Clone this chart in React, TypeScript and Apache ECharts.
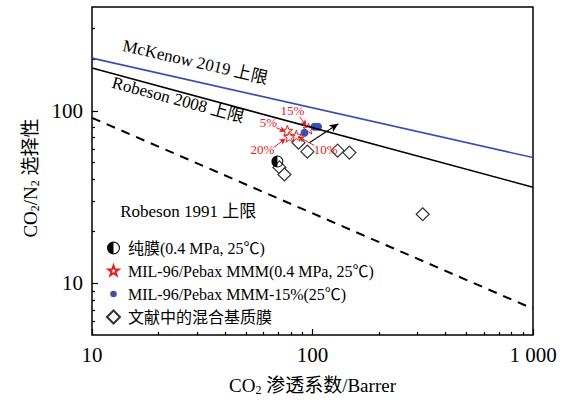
import React, { useEffect, useRef } from 'react';
import * as echarts from 'echarts';

const SERIF = '"Liberation Serif", "Times New Roman", "Noto Sans CJK SC", serif';

// Upper bound lines (x = CO2 permeability, Barrer)
const boundX = [10, 1000];
const mckenow2019 = [202, 53.5];
const robeson2008 = [177, 36];
const robeson1991 = [91, 7.1];

// Data points [permeability, selectivity]
const pureMembrane = [[69.3, 50.7]];
const mmmX = [76.9, 84.5, 95.9, 78.5];
const mmmY = [76.6, 71.7, 78.7, 70.7];
const mmm15 = [[92, 74.6], [102, 80.8], [106, 80.8]];
const literature = [[86.4, 65.3], [94.8, 57.9], [130, 58.7], [147, 57.2], [70.8, 46.9], [74.6, 42.7], [316, 25.1]];

// Percentage annotations: label position, arrow start, arrow end
const pctNames = ['15%', '5%', '20%', '10%'];
const pctLabelPos = [[81.1, 100], [63.1, 85.2], [59.3, 59.5], [114.6, 59.5]];
const pctArrowFrom = [[87.3, 92.3], [68.5, 79.8], [66.5, 61.1], [102, 62.8]];
const pctArrowTo = [[93.9, 81.9], [75.4, 75.7], [75.4, 68.9], [86.3, 70.8]];
const trendArrow = [[96.8, 65.3], [131, 84.1]];

// Bound line labels
const boundNames = ['McKenow 2019 上限', 'Robeson 2008 上限', 'Robeson 1991 上限'];
const boundLabelPos = [[29.4, 192], [24.6, 115.8], [27.3, 26.1]];
const boundLabelRot = [-13, -15, 0];

// Ticks
const xMajor = [10, 100, 1000];
const xMinor = [20, 30, 40, 50, 60, 70, 80, 90, 200, 300, 400, 500, 600, 700, 800, 900];
const yMajor = [10, 100];
const yMinor = [6, 7, 8, 9, 20, 30, 40, 50, 60, 70, 80, 90, 200, 300];

const legendNames = ['纯膜(0.4 MPa, 25℃)', 'MIL-96/Pebax MMM(0.4 MPa, 25℃)', 'MIL-96/Pebax MMM-15%(25℃)', '文献中的混合基质膜'];

const STAR = 'path://M0,-10 L2.35,-3.24 L9.51,-3.09 L3.8,1.24 L5.88,8.09 L0,4 L-5.88,8.09 L-3.8,1.24 L-9.51,-3.09 L-2.35,-3.24 Z';
const HALF = 'path://M0,-10 A10,10 0 0,0 0,10 Z M0,-10 A10,10 0 0,1 0,10 L0,8.4 A8.4,8.4 0 0,0 0,-8.4 Z';
const SMALLDOT = 'path://M-10,-10 M10,10 M-5,0 A5,5 0 1,0 5,0 A5,5 0 1,0 -5,0 Z';
const SMALLSTAR = 'path://M-12,-12 M12,12 M0,-10 L2.35,-3.24 L9.51,-3.09 L3.8,1.24 L5.88,8.09 L0,4 L-5.88,8.09 L-3.8,1.24 L-9.51,-3.09 L-2.35,-3.24 Z';

const RED = '#e8201c';
const BLUE = '#3a50b0';

export default function App() {
  const ref = useRef<HTMLDivElement>(null);
  useEffect(() => {
    if (!ref.current) return;
    const chart = echarts.init(ref.current, null, { renderer: 'svg' });
    const tickStyle = { color: '#000', width: 1.2 };
    const xFmt = (v: number) => {
      const r = Math.round(v);
      if (r === 1000) return '1 000';
      return xMajor.includes(r) ? String(r) : '';
    };
    const yFmt = (v: number) => {
      const r = Math.round(v);
      return yMajor.includes(r) ? String(r) : '';
    };
    const subRich = { sub: { fontSize: 12, fontFamily: SERIF, color: '#000', padding: [9, 0, 0, 0] } };
    const option: any = {
      animation: false,
      backgroundColor: '#fff',
      grid: { left: 92, right: 36, top: 7, bottom: 69, show: true, borderColor: '#000', borderWidth: 1.5 },
      legend: {
        orient: 'vertical', left: 106, top: 240, padding: 0, itemGap: 7, itemWidth: 13, itemHeight: 13,
        selectedMode: false,
        textStyle: { fontFamily: SERIF, fontSize: 16, color: '#000', padding: [0, 0, 0, 3] },
        data: [
          { name: legendNames[0] },
          { name: legendNames[1], icon: SMALLSTAR },
          { name: legendNames[2], icon: SMALLDOT },
          { name: legendNames[3] },
        ],
      },
      xAxis: [
        {
          type: 'log', logBase: 10, min: 10, max: 1000, position: 'bottom',
          axisLine: { show: false }, splitLine: { show: false },
          axisTick: { show: true, inside: true, length: 6, customValues: xMajor, lineStyle: tickStyle },
          axisLabel: { customValues: xMajor, formatter: xFmt, fontSize: 21, color: '#000', fontFamily: SERIF, margin: 9 },
          name: 'CO{sub|2} 渗透系数/Barrer', nameLocation: 'middle', nameGap: 40,
          nameTextStyle: { fontFamily: SERIF, fontSize: 19, color: '#000', rich: subRich },
        },
        {
          type: 'log', logBase: 10, min: 10, max: 1000, position: 'bottom',
          axisLine: { show: false }, splitLine: { show: false },
          axisTick: { show: true, inside: true, length: 3, customValues: xMinor, lineStyle: tickStyle },
          axisLabel: { show: false },
        },
      ],
      yAxis: [
        {
          type: 'log', logBase: 10, min: 5, max: 400, position: 'left',
          axisLine: { show: false }, splitLine: { show: false },
          axisTick: { show: true, inside: true, length: 6, customValues: yMajor, lineStyle: tickStyle },
          axisLabel: { customValues: yMajor, formatter: yFmt, fontSize: 21, color: '#000', fontFamily: SERIF, margin: 9 },
          name: 'CO{sub|2}/N{sub|2} 选择性', nameLocation: 'middle', nameGap: 48,
          nameTextStyle: { fontFamily: SERIF, fontSize: 19, color: '#000', rich: subRich, padding: [0, 14, 0, 0] },
        },
        {
          type: 'log', logBase: 10, min: 5, max: 400, position: 'left',
          axisLine: { show: false }, splitLine: { show: false },
          axisTick: { show: true, inside: true, length: 3, customValues: yMinor, lineStyle: tickStyle },
          axisLabel: { show: false },
        },
      ],
      series: [
        {
          type: 'line', name: 'McKenow 2019', silent: true, symbol: 'none',
          data: boundX.map((x, i) => [x, mckenow2019[i]]),
          lineStyle: { color: BLUE, width: 1.6 },
        },
        {
          type: 'line', name: 'Robeson 2008', silent: true, symbol: 'none',
          data: boundX.map((x, i) => [x, robeson2008[i]]),
          lineStyle: { color: '#000', width: 1.6 },
        },
        {
          type: 'line', name: 'Robeson 1991', silent: true, symbol: 'none',
          data: boundX.map((x, i) => [x, robeson1991[i]]),
          lineStyle: { color: '#000', width: 2, type: [9, 7] },
        },
        {
          type: 'scatter', name: 'boundLabels', silent: true, symbol: 'circle', symbolSize: 0.1,
          itemStyle: { color: 'transparent', opacity: 1 },
          data: boundNames.map((n, i) => ({ name: n, value: boundLabelPos[i], label: { rotate: boundLabelRot[i] } })),
          label: {
            show: true, position: 'inside', formatter: (p: any) => p.name, fontFamily: SERIF, fontSize: 17,
            color: '#000', textBorderWidth: 0, textBorderColor: 'transparent',
          },
          z: 5,
        },
        {
          type: 'scatter', name: legendNames[3], symbol: 'diamond', symbolSize: 13,
          itemStyle: { color: '#fff', borderColor: '#333', borderWidth: 1.2, opacity: 1 },
          data: literature,
        },
        {
          type: 'scatter', name: legendNames[0], symbol: HALF, symbolSize: 12,
          itemStyle: { color: '#000', opacity: 1 },
          data: pureMembrane,
        },
        {
          type: 'scatter', name: legendNames[1], symbol: STAR, symbolSize: 11,
          itemStyle: { color: '#fff', borderColor: RED, borderWidth: 1, opacity: 1 },
          data: mmmX.map((x, i) => [x, mmmY[i]]),
        },
        {
          type: 'scatter', name: legendNames[2], symbol: 'circle', symbolSize: 8,
          itemStyle: { color: BLUE, opacity: 1 },
          data: mmm15,
          markLine: {
            silent: true, symbol: ['none', 'arrow'], symbolSize: [6, 9],
            label: { show: false },
            lineStyle: { color: '#000', width: 1.1, type: 'solid' },
            data: [[{ coord: trendArrow[0] }, { coord: trendArrow[1] }]],
          },
        },
        {
          type: 'scatter', name: 'pctLabels', silent: true, symbol: 'circle', symbolSize: 0.1,
          itemStyle: { color: 'transparent', opacity: 1 },
          data: pctNames.map((n, i) => ({ name: n, value: pctLabelPos[i] })),
          label: {
            show: true, position: 'inside', formatter: (p: any) => p.name, fontFamily: SERIF, fontSize: 13,
            color: RED, textBorderWidth: 0, textBorderColor: 'transparent',
          },
          markLine: {
            silent: true, symbol: ['none', 'arrow'], symbolSize: [5, 6],
            label: { show: false },
            lineStyle: { color: RED, width: 1, type: 'solid' },
            data: pctNames.map((_, i) => [{ coord: pctArrowFrom[i] }, { coord: pctArrowTo[i] }]),
          },
          z: 6,
        },
      ],
    };
    chart.setOption(option);
    return () => chart.dispose();
  }, []);
  return <div ref={ref} style={{ position: 'fixed', left: 0, top: 0, width: 569, height: 404 }} />;
}
